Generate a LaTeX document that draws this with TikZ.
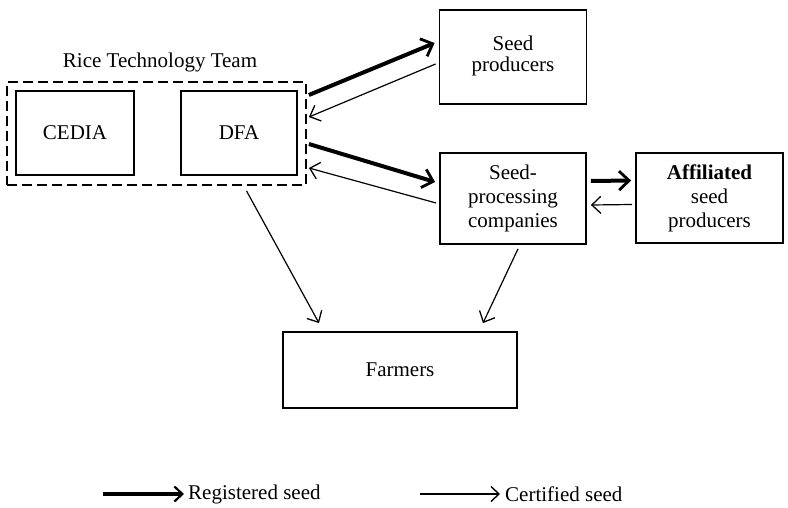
\documentclass[tikz,border=0pt]{standalone}
\usepackage{fontspec}
\setmainfont{Liberation Serif}
\usetikzlibrary{arrows.meta,calc}
\begin{document}
\begin{tikzpicture}[x=1pt,y=-1pt,
  font=\fontsize{21}{24}\selectfont,
  box/.style={draw, line width=1.8pt, inner sep=0pt, align=center},
  teambox/.style={draw, line width=1.8pt, dash pattern=on 10pt off 5pt, inner sep=0pt},
  lbl/.style={inner sep=0pt, anchor=west},
  reg/.style={line width=4pt, -{Straight Barb[length=10pt,width=19pt,line width=2.8pt]}},
  cert/.style={line width=1.2pt, -{Straight Barb[length=9pt,width=17pt,line width=1.3pt]}}]
\useasboundingbox (0,0) rectangle (788,508);
\node[box, minimum width=118pt, minimum height=84pt] (cedia) at (75,133) {CEDIA};
\node[box, minimum width=116pt, minimum height=84pt] (dfa) at (239,133) {DFA};
\node[teambox, minimum width=299pt, minimum height=103pt] (team) at (156.5,133.5) {};
\node[inner sep=0pt] (teamlbl) at (160,62) {Rice Technology Team};
\node[box, minimum width=147pt, minimum height=94pt] (sp) at (513,57) {\raisebox{6pt}{\fontsize{21}{21}\selectfont\begin{tabular}{@{}c@{}}Seed\\producers\end{tabular}}};
\node[box, minimum width=146pt, minimum height=91pt] (spc) at (513,198.5) {Seed-\\processing\\companies};
\node[box, minimum width=147pt, minimum height=90pt] (aff) at (709.5,198) {\textbf{Affiliated}\\seed\\producers};
\node[box, minimum width=234pt, minimum height=76pt] (farm) at (400,370) {Farmers};
% connectors
\draw[reg] ([xshift=2pt,yshift=38.5pt]team.east) -- ([xshift=-4pt,yshift=14pt]sp.west);
\draw[cert] ([xshift=-3pt,yshift=-7pt]sp.west) -- ([xshift=2pt,yshift=16.5pt]team.east);
\draw[reg] ([xshift=2pt,yshift=-10.5pt]team.east) -- ([xshift=-4pt,yshift=16.5pt]spc.west);
\draw[cert] ([xshift=-3pt,yshift=-4.5pt]spc.west) -- ([xshift=2pt,yshift=-34.5pt]team.east);
\draw[reg] ([xshift=4pt,yshift=17.5pt]spc.east) -- ([xshift=-4pt,yshift=17.5pt]aff.west);
\draw[cert] ([xshift=-3pt,yshift=-6.5pt]aff.west) -- ([xshift=4pt,yshift=-6.5pt]spc.east);
\draw[cert] ([xshift=90pt,yshift=-5pt]team.south) -- ([xshift=-81pt,yshift=8pt]farm.north);
\draw[cert] ([xshift=5pt,yshift=-4pt]spc.south) -- ([xshift=83pt,yshift=8pt]farm.north);
% legend
\coordinate (l1a) at (103,494);
\coordinate (l1b) at (184,494);
\coordinate (l2a) at (420,494);
\coordinate (l2b) at (500,494);
\draw[line width=3.5pt, -{Straight Barb[length=8pt,width=15pt,line width=2.2pt]}] (l1a) -- (l1b);
\draw[line width=1.5pt, -{Straight Barb[length=8pt,width=15pt,line width=1.4pt]}] (l2a) -- (l2b);
\node[lbl] (regl) at (188,494) {Registered seed};
\node[lbl] (certl) at (505,494) {Certified seed};
\end{tikzpicture}
\end{document}
